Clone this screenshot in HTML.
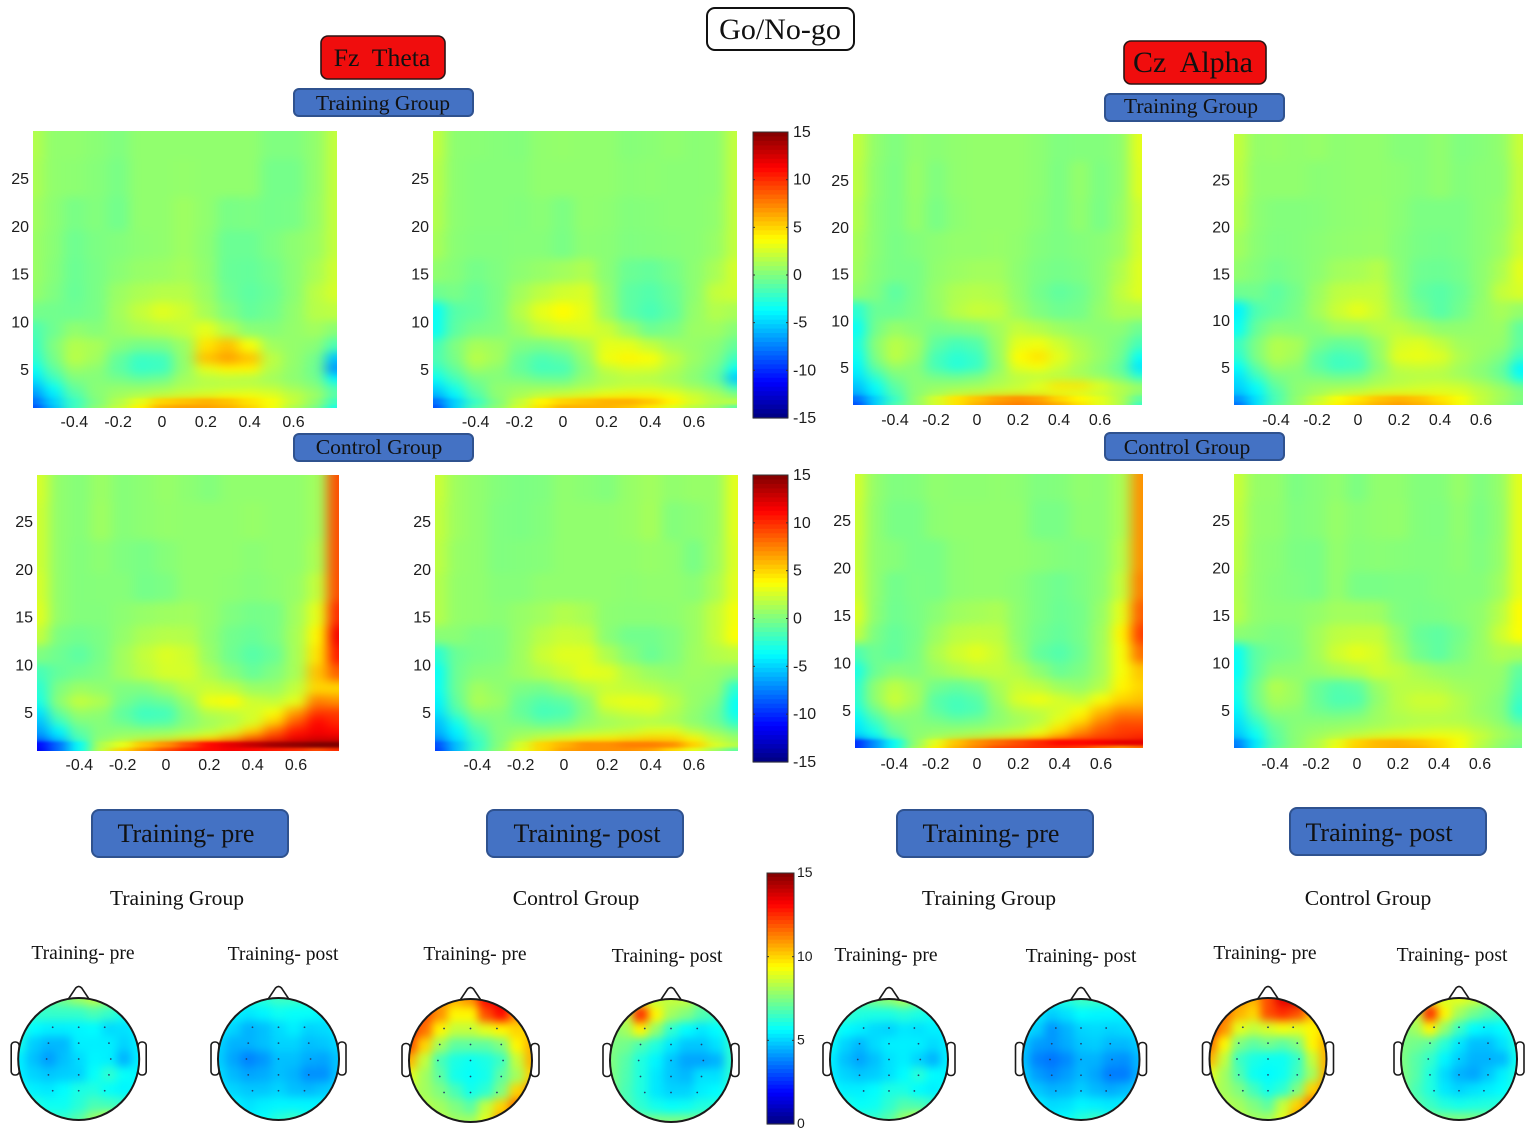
<!DOCTYPE html>
<html lang="en">
<head>
<meta charset="utf-8">
<title>Go/No-go time-frequency and topographic maps</title>
<style>
html,body{margin:0;padding:0;background:#fff;width:1535px;height:1137px;overflow:hidden}
svg{display:block}
.serif{font-family:"Liberation Serif",serif;fill:#111}
.sans{font-family:"Liberation Sans",sans-serif;fill:#1c1c1c}
</style>
</head>
<body>
<svg id="figure" xmlns="http://www.w3.org/2000/svg" width="1535" height="1137" viewBox="0 0 1535 1137">
<defs>
<filter id="blur-main" x="-10%" y="-10%" width="120%" height="120%" color-interpolation-filters="sRGB"><feGaussianBlur stdDeviation="6.5 4.5"/></filter>
<filter id="blur-band" x="-10%" y="-50%" width="120%" height="200%" color-interpolation-filters="sRGB"><feGaussianBlur stdDeviation="7 1.2"/></filter>
<filter id="blur-topo" x="-15%" y="-15%" width="130%" height="130%" color-interpolation-filters="sRGB"><feGaussianBlur stdDeviation="4.5"/></filter>
</defs>

<g>
<rect x="707" y="8" width="147" height="42" rx="8" fill="#fff" stroke="#111" stroke-width="2"/>
<text class="serif" x="780" y="39" font-size="30" text-anchor="middle">Go/No-go</text>
</g>
<g>
<rect x="321" y="36" width="124" height="43" rx="7" fill="#f00d0d" stroke="#2a1414" stroke-width="1.6"/>
<text class="serif" x="382" y="66" font-size="25.7" text-anchor="middle" xml:space="preserve">Fz  Theta</text>
</g>
<g>
<rect x="1124" y="41" width="142" height="43" rx="7" fill="#f00d0d" stroke="#2a1414" stroke-width="1.6"/>
<text class="serif" x="1193" y="72" font-size="30" text-anchor="middle" xml:space="preserve">Cz  Alpha</text>
</g>
<g>
<rect x="294" y="89" width="179" height="27" rx="5" fill="#4472c4" stroke="#2f528f" stroke-width="2"/>
<text class="serif" x="383" y="110" font-size="21.6" text-anchor="middle">Training Group</text>
</g>
<g>
<rect x="1105" y="94" width="179" height="27" rx="5" fill="#4472c4" stroke="#2f528f" stroke-width="2"/>
<text class="serif" x="1191" y="113" font-size="21.6" text-anchor="middle">Training Group</text>
</g>
<g>
<rect x="294" y="434" width="179" height="27" rx="5" fill="#4472c4" stroke="#2f528f" stroke-width="2"/>
<text class="serif" x="379" y="454" font-size="21.6" text-anchor="middle">Control Group</text>
</g>
<g>
<rect x="1105" y="433" width="179" height="27" rx="5" fill="#4472c4" stroke="#2f528f" stroke-width="2"/>
<text class="serif" x="1187" y="454" font-size="21.6" text-anchor="middle">Control Group</text>
</g>

<g>
<rect x="92" y="810" width="196" height="47" rx="7" fill="#4472c4" stroke="#2f528f" stroke-width="2"/>
<text class="serif" x="186" y="842" font-size="26" text-anchor="middle">Training- pre</text>
</g>
<g>
<rect x="487" y="810" width="196" height="47" rx="7" fill="#4472c4" stroke="#2f528f" stroke-width="2"/>
<text class="serif" x="587" y="842" font-size="26" text-anchor="middle">Training- post</text>
</g>
<g>
<rect x="897" y="810" width="196" height="47" rx="7" fill="#4472c4" stroke="#2f528f" stroke-width="2"/>
<text class="serif" x="991" y="842" font-size="26" text-anchor="middle">Training- pre</text>
</g>
<g>
<rect x="1290" y="808" width="196" height="47" rx="7" fill="#4472c4" stroke="#2f528f" stroke-width="2"/>
<text class="serif" x="1379" y="841" font-size="26" text-anchor="middle">Training- post</text>
</g>

<text class="serif" x="177" y="905" font-size="21.6" text-anchor="middle">Training Group</text>
<text class="serif" x="576" y="905" font-size="21.6" text-anchor="middle">Control Group</text>
<text class="serif" x="989" y="905" font-size="21.6" text-anchor="middle">Training Group</text>
<text class="serif" x="1368" y="905" font-size="21.6" text-anchor="middle">Control Group</text>

<text class="serif" x="83" y="959" font-size="19.6" text-anchor="middle">Training- pre</text>
<text class="serif" x="283" y="960" font-size="19.6" text-anchor="middle">Training- post</text>
<text class="serif" x="475" y="960" font-size="19.6" text-anchor="middle">Training- pre</text>
<text class="serif" x="667" y="962" font-size="19.6" text-anchor="middle">Training- post</text>
<text class="serif" x="886" y="961" font-size="19.6" text-anchor="middle">Training- pre</text>
<text class="serif" x="1081" y="962" font-size="19.6" text-anchor="middle">Training- post</text>
<text class="serif" x="1265" y="959" font-size="19.6" text-anchor="middle">Training- pre</text>
<text class="serif" x="1452" y="961" font-size="19.6" text-anchor="middle">Training- post</text>
</svg>

<script>
// Axis categories shared by all time-frequency panels
const timeCenters = [-0.58,-0.5,-0.4,-0.3,-0.2,-0.1,0,0.1,0.2,0.3,0.4,0.5,0.6,0.7,0.79];
const freqRows = [29,25,21,18,15,13,11,9,7.5,6,5,4,3,2.2,1.5,1];
const timeTicks = [-0.4,-0.2,0,0.2,0.4,0.6];
const timeTickLabels = ['-0.4','-0.2','0','0.2','0.4','0.6'];
const freqTicks = [5,10,15,20,25];
const powerTicks = [15,10,5,0,-5,-10,-15];
const topoTicks = [15,10,5,0];

// Power values (rows follow freqRows, columns follow timeCenters)
const fzTrainingPre = [
[1.5,.5,.5,.3,0,.5,.5,.5,.5,.5,.5,0,0,.5,2],
[1.3,.5,.4,.2,-.2,.5,.5,.6,.5,.5,.5,-.3,-.3,.5,2],
[1,.4,-.2,.1,-.4,.5,.5,.9,.5,-.2,-.1,-.3,-.2,.6,2],
[.8,.3,-.5,-.1,.1,.4,.5,.9,.4,-.6,-.6,-.1,.4,.8,2],
[.8,.2,-.6,-.2,.3,.7,.8,1.1,.5,-.7,-.8,-.4,.3,1.2,2.3],
[.6,0,-.7,-.2,.8,1.3,1.6,1.6,.8,-.5,-1,-.6,.3,1.7,2.5],
[-.3,-.4,-.5,-.2,1,2,2.8,2.3,1.2,0,-.8,-.4,.5,1.6,1.8],
[-1.5,-.5,.5,.2,.8,1.3,1.6,2,3,1.5,.3,.2,.6,1,.3],
[-2,0,1.5,1.2,.2,-.3,-.2,.8,4.5,5.5,3.5,1,.6,.3,-1.5],
[-2.5,-.3,1.7,1,-.8,-2,-1.8,.6,5.5,6.5,5.5,1.8,.6,-.3,-5.5],
[-3.5,-1,.8,.4,-1,-2.2,-2,.5,3,4,4,1.5,.5,-.5,-7],
[-4.5,-2,0,.2,-.3,-.8,-.5,1,1.7,1.8,1.6,1,.4,-.3,-4],
[-6,-3.5,-.8,.3,.6,.6,.8,1.4,1.7,1.8,2,1.8,1,.3,-1.5],
[-7,-4.5,-1.5,.2,1,1.5,2,2.5,3,3.5,3.5,3,2,1,-1],
[-8,-5,-2,0,1.5,3,5,5.5,6,5.5,4.5,3.5,2,.5,-2],
[-9,-5.5,-2,.3,2,4,6,6.5,6.5,6,5,3.5,1.5,0,-3]];
const fzTrainingPost = [
[2,.4,.3,.2,.1,.5,.6,.5,.5,.2,.3,.5,.3,.4,2],
[1.7,.4,.2,.2,.2,.5,.5,.5,.5,.3,.4,.3,.3,.4,2],
[1.5,.4,.2,.2,.1,.3,-.1,.5,.4,.1,.2,.3,.3,.5,2],
[1.2,.3,.1,.1,.2,.2,-.2,.4,.3,0,.1,.2,.3,.7,2],
[.5,.2,-.3,0,.4,.7,1,1.4,.3,-.6,-.8,-.3,.4,1.2,2.5],
[-.5,-.2,-.7,-.1,1,1.8,2.4,2.6,.6,-1,-1.3,-.7,.4,2,2.3],
[-3.5,-1.2,-.8,-.1,1.5,3,3.8,3,.8,-1,-1.6,-.9,.6,1.5,1.2],
[-3.5,-1,-.2,0,.9,2,2.5,2.7,2.2,.8,-.5,-.1,.8,.9,.2],
[-1.7,0,1.2,.9,0,-.2,.2,1.2,3,3,2,1,.7,.3,-.8],
[-1.5,-.2,1.7,1,-.7,-1.5,-1,.6,3.3,4,3.6,2,.8,0,-2],
[-2.3,-.8,.9,.4,-.8,-1.8,-1.7,.2,2,2.6,2.5,1.5,.5,-.5,-3.5],
[-3.5,-1.7,-.2,.2,-.1,-.6,-.7,.6,1.4,1.7,1.5,1.1,.3,-.8,-5.5],
[-5,-3,-.8,.5,.8,.8,.8,1.3,1.8,2.2,2.3,1.8,1,.3,-2],
[-6,-4,-1.4,.4,1.2,2,2.5,3,3.6,4,4,3.5,2.5,1.5,.5],
[-8,-5,-2,.1,2,4,5,5.5,6,6,5.3,4,2.5,1.5,1.5],
[-9,-5,-1.5,.4,2.5,4.5,6,6,6,5.5,4.5,3,1.8,1,-1]];
const czTrainingPre = [
[2,.5,0,.5,.3,.5,.6,.6,.6,.4,0,.1,.1,.4,3],
[1.8,.4,-.1,.7,0,.5,.6,.6,.6,.4,-.1,.6,-.1,.4,2.8],
[1.5,.3,-.1,.6,-.2,.4,.6,.6,.6,.3,-.1,.5,-.2,.6,2.3],
[1.2,.3,-.2,.1,.4,.6,.6,.7,.5,.1,-.1,.1,.3,.8,2.5],
[1,.2,-.2,-.2,.5,.8,1,1,.4,-.1,-.3,-.1,.4,1.4,2.8],
[.5,0,-1,-.2,.7,1.4,1.6,1.4,.5,-.3,-.9,-.5,.4,1.8,2.8],
[-2.5,-.6,-.6,-.1,.6,1.6,2.1,1.9,.8,0,-.5,-.3,.6,1.4,1.4],
[-3.5,-.3,.7,.3,-.2,0,.2,1,2,1.5,.9,.5,.4,.4,-.5],
[-3,.3,1.7,1,-1,-1.7,-1.3,.7,3,3.3,2.3,1.3,.6,-.1,-1.7],
[-3.5,0,1.8,.8,-1.7,-2.5,-2,.5,3.8,4.5,3,1.6,.7,-.3,-3.5],
[-4,-.8,.7,.2,-1.7,-2.7,-2.1,.3,3,3.5,2.3,1.2,.3,-.8,-4.5],
[-4.5,-2.2,-.2,.3,-.4,-.6,-.2,1,1.8,1.8,1.6,1.2,.6,-.3,-2.5],
[-5.5,-3.5,-1,.3,.6,.7,.9,1.4,2,3,4.5,4.5,3,1.6,.8],
[-6,-4,-1.5,.3,1,1.7,2,2.4,2.6,2.6,2.8,2.5,2,1.5,.5],
[-8,-5,-2,.5,2.5,4.5,5.5,6.5,7,6.5,5,4,3,1.5,-1],
[-9,-5,-1.5,.5,2.5,4.5,6,7,7.5,7,6,4.5,3,1.5,-2]];
const czTrainingPost = [
[2,.6,.7,.5,.7,.4,.5,.5,.2,.2,.5,0,.2,.5,2.2],
[1.8,.5,.5,.5,.3,.4,.5,.5,.4,.2,.5,.1,.3,.4,2],
[1.5,.4,.1,.1,.2,.4,.5,.6,.3,-.1,-.1,-.1,.3,.6,2],
[1,.3,0,.1,.3,.5,.6,.7,.2,-.2,-.3,-.1,.3,.8,2.3],
[.5,.1,-.3,0,.4,1,1.2,1.6,.3,-.5,-.6,-.3,.4,1.3,3],
[-.5,-.4,-1,-.3,.8,1.8,2,2,.5,-.8,-1.2,-.6,.4,2,2.6],
[-4,-1.4,-.8,-.2,1,2.2,3,2.2,.8,-.3,-1.2,-.4,.6,1.2,.6],
[-3.5,-.7,.3,.2,.3,1,1,1.6,1.8,1.2,.5,.5,.7,.8,-1],
[-2,0,1.5,1.2,-.2,-.8,-.6,.7,2.5,2.8,2,1,.8,.6,-1],
[-2.5,0,1.5,1,-1,-1.8,-1.5,.6,3,3.2,2.8,1.4,.7,0,-2],
[-3.7,-1,.8,.4,-1,-2,-1.8,.2,2,2.2,2,1,.3,-.7,-4],
[-4.5,-2,-.2,.2,-.1,-.5,-.3,.9,1.5,1.6,1.5,1,.4,-.6,-3.5],
[-5,-3.5,-.8,.4,.8,.8,.9,1.4,1.8,2.2,2.4,2.2,1.4,.5,-.7],
[-5.5,-4,-1.5,.3,1,1.8,2.2,2.8,3,3,3,2.8,2,1.2,.2],
[-7,-4.5,-1.5,.5,2,3.5,4.5,5.5,6,5.5,4.5,3.5,2,1,0],
[-8,-4.5,-1.2,.6,2.5,4,5,6,6.5,6,5,3.5,2,.8,-.5]];
const fzControlPre = [
[2.5,.5,.2,.8,.2,.4,.7,.4,.1,.5,.5,.5,.5,1,9],
[2.3,.5,.2,.9,.2,.4,.6,.5,.5,.5,.7,.5,.5,1,9],
[2.3,.5,.1,.4,0,-.2,.2,.5,.5,.5,.3,.5,.5,1.3,9],
[2.5,.5,.1,.2,.2,-.3,-.1,.5,.5,.4,.2,.4,.7,2,9],
[2.8,.5,.1,.1,.4,.7,.9,1,.6,0,-.3,-.2,1,3,10],
[2,-.1,-.4,-.1,.6,1.3,1.6,1.5,.5,-.4,-.7,-.2,1.2,4,11.5],
[0,-.5,-1,-.2,1,2,2.7,2.3,.7,-.5,-1.2,-.6,1.2,4.5,10.5],
[-1.7,-.8,-.4,0,1,1.8,2.5,2.5,1.3,.2,-.7,0,1.2,5.5,8.5],
[-2.5,0,.8,.5,0,0,.8,1.8,2.2,1.8,.8,.8,2,5,5],
[-3,.4,2,1.4,-.3,-1,-.6,.8,3.3,3.8,2.3,2,3,7.5,7],
[-4.5,-.7,.8,.5,-1,-2,-1.8,.2,1.7,2,2.5,3.5,6.5,9.5,9.5],
[-5.5,-2,0,.2,-.6,-1.5,-1.3,.2,1,1.5,2.5,5,8.5,11,10],
[-6.5,-4,-1,.2,.4,.3,.4,.8,1.5,2.5,5,8,10.5,11.5,11],
[-7.5,-5,-1.5,.3,1,1.5,2,3,4,6,8.5,10,11.5,12,12],
[-11,-8,-3.5,1.5,3,5.5,7,9,11,12,13,14,14.5,15,15],
[-11.5,-8,-3.5,2,5,7,9,10.5,11,11.5,11,10.5,10,9,10]];
const fzControlPost = [
[2.2,.9,.5,.1,-.1,0,.5,.3,.1,.7,1,.5,.7,.7,3],
[2,.9,.5,0,-.1,.1,.5,.5,.5,.7,1.1,.1,.3,.7,3],
[1.8,.7,.5,0,.1,.2,.5,.5,.5,.5,.7,.5,-.2,.8,2.8],
[1.5,.6,.5,.2,.2,.5,.5,.5,.5,.4,.5,.5,.3,1.2,3],
[1.5,.6,.5,.3,.7,1,1.5,1.2,.4,.3,.3,.4,.8,2,3.5],
[.3,.3,-.1,0,.8,1.7,2.2,2,.3,-.4,-.4,0,.8,2,3.7],
[-2.5,-.6,-.2,0,.9,2.2,2.8,2.8,1.4,.2,-.6,0,.9,1.5,1.8],
[-3.5,-.5,.2,.3,.9,1.5,2.2,3,2.8,1.5,.8,.5,.9,.7,.2],
[-3.5,-.5,1,.5,-.1,-.3,.5,1.5,2.2,2,1.7,1.2,.7,.5,-2.5],
[-4,-.8,1.3,.8,-.7,-1.3,-1,.3,2.8,3.2,3,1.8,.7,0,-3.5],
[-4.5,-1.5,.4,.3,-.8,-1.8,-1.6,.1,1.8,2.3,2.6,1.5,.5,-.5,-3.5],
[-5.5,-3,-.5,.1,-.3,-1,-.7,.5,1,1.3,1.4,1.2,.4,-.5,-2.5],
[-6,-4,-1.4,.2,.6,.6,.7,1.2,1.6,2,2.8,3,1.5,.6,-.5],
[-7,-4.5,-2,0,1.2,2.2,3,3.5,4,4.5,5,5,4,2,1],
[-9,-5.5,-2.2,.2,2.5,5,6,7,7,7.5,7.5,7,5,2.5,1.5],
[-9.5,-5.5,-2,.5,3,5,6.5,7,7,7,6.5,5,3,1,-1]];
const czControlPre = [
[2.5,.6,0,.1,.5,.4,.4,.5,.4,0,.1,.5,.4,1.2,7],
[2.3,.5,-.2,-.2,.4,.5,.5,.5,.5,-.2,-.2,.4,.4,1.2,7],
[2.2,.5,.2,-.2,-.2,.4,.5,.5,.5,.3,.1,0,.3,1.5,7],
[2.3,.5,-.4,-.1,-.2,.4,.5,.5,.3,-.2,-.5,-.1,.4,2,7.5],
[2.8,.4,-.5,-.2,.3,.9,1.1,1.3,.4,-.2,-.6,-.3,.7,3,8.5],
[2,-.1,-.8,-.3,.8,1.7,1.9,1.8,.4,-.4,-.8,-.3,.9,4,9.5],
[-1.5,-.5,-.9,-.2,1.3,2.3,2.9,2.2,.7,-.8,-1.3,-.5,1,3.5,8],
[-3,-.6,.2,0,.8,1.4,1.9,2,1.5,.4,-.6,-.1,1,3.5,5.5],
[-2.5,.5,1.8,1,-.4,-.8,-.3,1.2,2.2,1.8,.9,.6,1.5,4,5],
[-2.5,.5,2.2,1.2,-1.2,-1.7,-1.2,.8,2.7,3.3,2.5,2,3.5,5,5.5],
[-3,-.5,1.2,.5,-1,-1.8,-1.5,.4,1.6,2,2.5,3.5,5.5,7,7],
[-4,-1.7,0,.2,-.3,-.8,-.5,.4,1,1.6,3,4.5,7,8.5,8.5],
[-4.5,-2.8,-.5,.3,.4,.4,.5,.8,1.4,2.5,4.5,6.5,8.5,9.5,9.5],
[-5,-3.5,-1,.3,.8,1.3,1.8,2.5,3,4,6,8,9,9.5,10],
[-10,-7,-3.5,.5,3,5.5,7,8,9,10,11,11,11.5,12,12],
[-10,-7,-3.5,1,4,6,7.5,9,9.5,10,10,9.5,8,7,8]];
const czControlPost = [
[2.2,.7,.6,-.1,.2,.5,-.1,.5,.5,.1,.1,.7,0,.6,3],
[2,.6,.5,0,.2,.7,.3,.5,.6,.1,0,.5,-.1,.5,3],
[1.8,.5,.3,-.1,-.2,.6,.2,.3,.2,.1,.1,.4,0,.6,3],
[1.5,.5,.2,0,-.2,.6,-.2,-.2,-.1,-.1,.1,.2,.2,.9,3],
[1.6,.5,.3,.3,.6,1,1,.9,0,-.2,-.1,.2,.5,1.6,3.8],
[.4,.2,-.1,.1,1,1.8,2,2,.6,-.7,-1,-.3,.6,2.2,3.7],
[-3.5,-1,-.3,0,1,2.3,3,2.5,1,-.4,-1,-.1,.7,1.4,1.2],
[-3.7,-1,.3,.4,.7,1.2,1.6,2.3,1.9,1.2,.7,.5,.7,.7,-1],
[-3.2,-.5,1.5,.8,-.6,-1.3,-1,.8,1.7,1.7,1.5,1,.8,.5,-1.5],
[-3.5,-.5,1.2,.8,-.6,-1.5,-1.4,.5,1.7,2.3,2.3,1.5,.8,.2,-2],
[-4,-1,.6,.4,-.4,-.8,-.6,.8,1.6,2,2,1.5,.7,.2,-2.5],
[-4.5,-2,-.2,.2,.2,.2,.4,.9,1.3,1.5,1.5,1.4,1,.3,-1.5],
[-5,-3,-.8,.3,.6,.8,1,1.3,1.7,2,2.2,2.2,1.5,.9,0],
[-5.5,-3.7,-1,.3,1,1.6,2.2,2.8,3.1,3.3,3.5,3.3,2.3,1.2,.4],
[-7.5,-4.3,-1.2,.3,1.4,3,5,5.8,6,5.5,4.8,3.5,1.8,.7,0],
[-8,-4.2,-.9,.5,1.6,3.4,5.2,5.8,6.2,6,5,3.6,1.5,.4,-.5]];

// Scalp positions of the topographic grid (-1 .. 1 across the head) and electrode layout
const scalpGrid = [-1,-.75,-.5,-.25,0,.25,.5,.75,1];
const electrodeRows = [-.52,-.26,0,.26,.52];
const electrodeColumns = [[-.43,0,.43],[-.5,0,.5],[-.53,0,.53],[-.5,0,.5],[-.43,0,.43]];

// Topographic power (rows top to bottom, columns left to right)
const topoFzTrainingPre = [
[6.4,6.4,6.9,7.4,7.9,8.4,7.9,6.9,6.4],[6.4,6.4,6.4,6.4,6.4,6.7,6.4,5.9,5.9],[6.4,5.6,5.4,5.4,5.5,5.6,5.1,5.2,5.4],
[5.9,4.9,4.6,4.6,5.4,5.4,5.4,5,5.4],[5.4,4.7,4.2,4.7,5.1,5.5,5.4,4.5,5.4],[5.4,5,4.8,4.9,5,5.7,6.3,5.7,5.5],
[5.9,5.4,5.3,5.6,6,6.1,5.7,5.5,5.7],[6.4,6.1,5.8,5.8,6.2,6.7,6.6,6.4,6.4],[6.4,6.4,6.4,6.4,6.9,7.9,8.9,7.4,6.4]];
const topoFzTrainingPost = [
[5.5,5.5,6,6.2,6.5,6.5,6.2,5.7,5.5],[5.5,5.5,5.3,5.5,5.8,5.7,5.7,5.5,5.5],[5.5,5,4.5,4.7,5.1,5.4,5,5.1,5.3],
[5,4.5,4.5,4.7,5,5,4.7,4.8,5.1],[4.9,4.3,3.8,4.1,4.7,4.7,4.4,4.3,4.8],[5.1,4.6,4.3,4.4,4.7,4.5,4,4,4.8],
[5.3,5,4.8,4.8,5,4.7,4.6,4.8,5.1],[5.5,5.5,5.2,5.4,5.5,5.5,5.5,5.5,5.5],[5.5,5.5,5.5,5.7,6.2,6.5,6,5.5,5.5]];
const topoFzControlPre = [
[11,11,11,10.5,11,13,13.5,13,10],[12,12,11,9.5,9.5,12,13,11,10],[12.5,11.5,9.5,8.5,8.5,9,9.5,10,10],
[12,10,8,7,7,7,7.5,9.5,10.5],[10.5,8.5,6.7,6,5.8,6,6.5,8.5,10.5],[9,8,7,5.9,5.7,5.9,7,8,10],
[8.5,8,7.5,6.7,5.9,6.3,7.5,10,11],[8.5,8.3,8,7.5,7,8.5,10,11.5,11],[8.5,8.5,8.5,8,8,9,11,11,9]];
const topoFzControlPost = [
[7.5,8,9,8.5,8.5,8.5,7.5,7,7],[8,8.5,12.5,9.5,8,7.5,6.8,6.5,6.5],[7.5,8,9.5,7.8,6.3,5.6,5.3,5.6,6.2],
[7.5,7.3,6.7,6.1,5.3,4.8,4.8,5.2,6.2],[7.5,6.9,6.1,5.5,4.8,4.3,4.3,4.5,6.2],[7.5,6.8,6.1,5.3,4.8,4.6,5.2,5.2,6.2],
[7.5,6.7,6.1,5.3,5,5,5.4,5.6,6.2],[7.5,6.8,6.3,5.9,5.7,5.8,6.1,6.2,6.5],[7.5,7.5,7.5,7.5,7.5,7.5,7.5,7,7]];
const topoCzTrainingPre = [
[6.4,6.4,6.9,7.4,7.7,8.2,7.4,6.7,6.4],[6.4,6.4,6.1,6,6,6.2,6,5.8,5.8],[6.2,5.6,5.4,5.1,5,5.3,5.2,5.4,5.4],
[5.7,5,4.6,5.1,5.4,5.4,5.4,5.1,5.4],[5.4,4.7,4.3,4.7,5.2,5.4,5,4.5,5.4],[5.4,5,4.8,4.9,5.2,5.6,6.2,5.6,5.5],
[5.7,5.4,5.4,5.6,6,6,5.6,5.4,5.7],[6.4,6,5.7,5.8,6.3,6.8,6.7,6.4,6.4],[6.4,6.4,6.4,6.4,6.9,7.9,8.9,7.4,6.4]];
const topoCzTrainingPost = [
[5.5,5.5,5.8,6.1,6.5,6.5,6.2,5.5,5.5],[5.5,5.3,4.9,5.2,5.6,5.5,5.5,5.4,5.3],[5.3,4.9,4.1,4.5,5,5.1,5,5.1,5.2],
[4.8,4.2,4.1,4.4,4.8,4.9,4.6,4.6,4.9],[4.7,3.8,3.6,3.9,4.5,4.5,4.1,4,4.6],[4.9,4.2,3.9,4.2,4.6,4.3,3.7,3.7,4.5],
[5.2,4.8,4.5,4.6,4.9,4.6,4.4,4.6,5],[5.5,5.4,5.1,5.2,5.5,5.4,5.3,5.4,5.5],[5.5,5.5,5.5,5.7,6.2,6.5,6,5.5,5.5]];
const topoCzControlPre = [
[11,11,11,10.5,12,13.5,14,13,10],[12,11.5,10.5,10,12,12.5,12,10.5,10],[12.5,11,9,8.5,8.8,9.2,9,9.5,10],
[11.5,9.5,7.5,7,7.3,7,7.5,9.5,10.5],[10.5,8.5,6.5,6,5.8,5.8,6.4,8.5,10.5],[9,8,6.8,5.8,5.6,5.8,6.6,8,10.5],
[8.5,8,7.5,6.6,5.9,6.3,7.5,10,11],[8.5,8.3,8,7.5,7,8.5,10,11.5,11],[8.5,8.5,8.5,8,8,9,11,11,9]];
const topoCzControlPost = [
[7.5,8,9,8.8,9,8.7,8,7,7],[8,8.5,12.5,9.5,8,7.3,6.8,6.5,6.5],[7.5,8,9.5,7.8,6.5,5.6,5.4,5.6,6.2],
[7.5,7.3,7,6.2,5.3,4.7,4.7,5.2,6],[7.5,6.9,6.4,5.5,4.9,4.5,4.5,4.6,5.8],[7.5,6.9,6.1,5.1,4.5,4.3,4.8,5.4,6],
[7.5,6.7,6.1,5.3,5,5.2,5.4,5.6,6.2],[7.5,7,6.5,6.1,5.9,6,6.1,6.2,6.5],[7.5,7.5,7.5,7.5,7.5,7.5,7.5,7,7]];

const NS = 'http://www.w3.org/2000/svg';
const figure = document.getElementById('figure');
const defs = figure.querySelector('defs');

function make(tag, attrs, parent) {
  const el = document.createElementNS(NS, tag);
  for (const k in attrs) el.setAttribute(k, attrs[k]);
  parent.appendChild(el);
  return el;
}
function clamp01(v) { return Math.max(0, Math.min(1, v)); }
function jet(t) {
  const r = clamp01(1.5 - Math.abs(4 * t - 3));
  const g = clamp01(1.5 - Math.abs(4 * t - 2));
  const b = clamp01(1.5 - Math.abs(4 * t - 1));
  return 'rgb(' + Math.round(r * 255) + ',' + Math.round(g * 255) + ',' + Math.round(b * 255) + ')';
}
function linearScale(d0, r0, d1, r1) {
  return function (v) { return r0 + (v - d0) * (r1 - r0) / (d1 - d0); };
}
function cellEdges(centers, scale, lowPad, highPad) {
  const px = centers.map(scale);
  const edges = [px[0] + lowPad];
  for (let i = 0; i < px.length - 1; i++) edges.push((px[i] + px[i + 1]) / 2);
  edges.push(px[px.length - 1] + highPad);
  return edges;
}

function drawPanel(cfg) {
  const xScale = linearScale(0, cfg.x0, 0.6, cfg.x6);
  const yScale = linearScale(5, cfg.y5, 25, cfg.y25);
  const panel = make('g', {}, figure);
  
  
  const clip = make('clipPath', { id: 'clip-' + cfg.name }, defs);
  make('rect', { x: cfg.left, y: cfg.top, width: cfg.right - cfg.left, height: cfg.bottom - cfg.top }, clip);
  const frame = make('g', { 'clip-path': 'url(#clip-' + cfg.name + ')' }, panel);
  const mainLayer = make('g', { filter: 'url(#blur-main)' }, frame);
  const bandLayer = make('g', { filter: 'url(#blur-band)' }, frame);
  const xEdges = cellEdges(timeCenters, xScale, -45, 45);
  const yEdges = cellEdges(freqRows, yScale, -45, 45);
  cfg.values.forEach(function (row, r) {
    row.forEach(function (v, c) {
      const attrs = {
        x: xEdges[c], y: yEdges[r],
        width: xEdges[c + 1] - xEdges[c] + 0.5,
        height: yEdges[r + 1] - yEdges[r] + 0.5,
        fill: jet((v + 15) / 30)
      };
      const cell = make('rect', attrs, mainLayer);
      
      
      if (freqRows[r] <= 1.5) {
        const bandCell = make('rect', attrs, bandLayer);
        
        
      }
    });
  });
  timeTicks.forEach(function (t, i) {
    const label = make('text', { class: 'sans', x: xScale(t), y: cfg.bottom + cfg.tickGap, 'font-size': 16, 'text-anchor': 'middle' }, panel);
    label.textContent = timeTickLabels[i];
    
    
  });
  freqTicks.forEach(function (f) {
    const label = make('text', { class: 'sans', x: cfg.left - 4, y: yScale(f) + 6, 'font-size': 16, 'text-anchor': 'end' }, panel);
    label.textContent = String(f);
    
    
  });
}

function drawColorbar(cfg) {
  const bar = make('g', {}, figure);
  
  
  const yScale = linearScale(cfg.max, cfg.top, cfg.min, cfg.bottom);
  const steps = 64;
  for (let i = 0; i < steps; i++) {
    const hi = cfg.max - (cfg.max - cfg.min) * i / steps;
    const lo = cfg.max - (cfg.max - cfg.min) * (i + 1) / steps;
    const swatch = make('rect', { x: cfg.left, y: yScale(hi), width: cfg.right - cfg.left, height: yScale(lo) - yScale(hi) + 0.6, fill: jet(1 - (i + 0.5) / steps) }, bar);
    
    
  }
  make('rect', { x: cfg.left, y: cfg.top, width: cfg.right - cfg.left, height: cfg.bottom - cfg.top, fill: 'none', stroke: '#333', 'stroke-width': 1 }, bar);
  cfg.ticks.forEach(function (v) {
    const y = yScale(v);
    make('line', { x1: cfg.left, x2: cfg.left + 2, y1: y, y2: y, stroke: '#333' }, bar);
    make('line', { x1: cfg.right - 2, x2: cfg.right, y1: y, y2: y, stroke: '#333' }, bar);
    const label = make('text', { class: 'sans', x: cfg.labelX, y: y + cfg.fontSize * 0.37 - 1, 'font-size': cfg.fontSize }, bar);
    label.textContent = String(v);
    
    
  });
}

function drawTopo(cfg) {
  const topo = make('g', {}, figure);
  
  
  const xScale = linearScale(-1, cfg.cx - cfg.rx, 1, cfg.cx + cfg.rx);
  const yScale = linearScale(-1, cfg.cy - cfg.ry, 1, cfg.cy + cfg.ry);
  const earStyle = { fill: '#fff', stroke: '#1a1a1a', 'stroke-width': 1.6, rx: 3.5 };
  make('rect', Object.assign({ x: cfg.cx - cfg.rx - 7, y: cfg.cy - 17, width: 8, height: 33 }, earStyle), topo);
  make('rect', Object.assign({ x: cfg.cx + cfg.rx - 1, y: cfg.cy - 17, width: 8, height: 33 }, earStyle), topo);
  const top = cfg.cy - cfg.ry;
  make('path', { d: 'M' + (cfg.cx - 11) + ' ' + (top + 2) + 'L' + (cfg.cx - 3) + ' ' + (top - 10) + 'Q' + cfg.cx + ' ' + (top - 13) + ' ' + (cfg.cx + 3) + ' ' + (top - 10) + 'L' + (cfg.cx + 11) + ' ' + (top + 2), fill: '#fff', stroke: '#1a1a1a', 'stroke-width': 1.6 }, topo);
  const clip = make('clipPath', { id: 'clip-' + cfg.name }, defs);
  make('ellipse', { cx: cfg.cx, cy: cfg.cy, rx: cfg.rx, ry: cfg.ry }, clip);
  const frame = make('g', { 'clip-path': 'url(#clip-' + cfg.name + ')' }, topo);
  const layer = make('g', { filter: 'url(#blur-topo)' }, frame);
  const xEdges = cellEdges(scalpGrid, xScale, -30, 30);
  const yEdges = cellEdges(scalpGrid, yScale, -30, 30);
  cfg.values.forEach(function (row, r) {
    row.forEach(function (v, c) {
      const cell = make('rect', { x: xEdges[c], y: yEdges[r], width: xEdges[c + 1] - xEdges[c] + 0.5, height: yEdges[r + 1] - yEdges[r] + 0.5, fill: jet(v / 15) }, layer);
      
      
    });
  });
  electrodeRows.forEach(function (ry, i) {
    electrodeColumns[i].forEach(function (ex) {
      const dot = make('circle', { cx: xScale(ex), cy: yScale(ry), r: 0.9, fill: '#24406a' }, topo);
      
      
    });
  });
  make('ellipse', { cx: cfg.cx, cy: cfg.cy, rx: cfg.rx, ry: cfg.ry, fill: 'none', stroke: '#1a1a1a', 'stroke-width': 2 }, topo);
}

drawPanel({ name: 'fz-training-pre-heatmap', values: fzTrainingPre, left: 33, right: 337, top: 131, bottom: 408, x0: 162, x6: 293.5, y5: 369, y25: 178, tickGap: 19 });
drawPanel({ name: 'fz-training-post-heatmap', values: fzTrainingPost, left: 433, right: 737, top: 131, bottom: 408, x0: 563, x6: 694, y5: 369, y25: 178, tickGap: 19 });
drawPanel({ name: 'cz-training-pre-heatmap', values: czTrainingPre, left: 853, right: 1142, top: 134, bottom: 405, x0: 977, x6: 1100, y5: 367, y25: 180, tickGap: 20 });
drawPanel({ name: 'cz-training-post-heatmap', values: czTrainingPost, left: 1234, right: 1523, top: 134, bottom: 405, x0: 1358, x6: 1481, y5: 367, y25: 179.5, tickGap: 20 });
drawPanel({ name: 'fz-control-pre-heatmap', values: fzControlPre, left: 37, right: 339, top: 475, bottom: 751, x0: 166, x6: 296, y5: 712, y25: 521, tickGap: 19 });
drawPanel({ name: 'fz-control-post-heatmap', values: fzControlPost, left: 435, right: 738, top: 475, bottom: 751, x0: 564, x6: 694, y5: 712, y25: 521, tickGap: 19 });
drawPanel({ name: 'cz-control-pre-heatmap', values: czControlPre, left: 855, right: 1143, top: 474, bottom: 748, x0: 977, x6: 1101, y5: 710, y25: 520, tickGap: 21 });
drawPanel({ name: 'cz-control-post-heatmap', values: czControlPost, left: 1234, right: 1522, top: 474, bottom: 748, x0: 1357, x6: 1480, y5: 710, y25: 520, tickGap: 21 });

drawColorbar({ name: 'colorbar-training', left: 753, right: 788, top: 132, bottom: 418, min: -15, max: 15, ticks: powerTicks, labelX: 793, fontSize: 16 });
drawColorbar({ name: 'colorbar-control', left: 753, right: 788, top: 475, bottom: 762, min: -15, max: 15, ticks: powerTicks, labelX: 793, fontSize: 16 });
drawColorbar({ name: 'colorbar-topomap', left: 767, right: 794, top: 873, bottom: 1124, min: 0, max: 15, ticks: topoTicks, labelX: 797, fontSize: 14 });

drawTopo({ name: 'topomap-fz-training-pre', values: topoFzTrainingPre, cx: 78.7, cy: 1059, rx: 60.5, ry: 61 });
drawTopo({ name: 'topomap-fz-training-post', values: topoFzTrainingPost, cx: 278.5, cy: 1059, rx: 60.5, ry: 61 });
drawTopo({ name: 'topomap-fz-control-pre', values: topoFzControlPre, cx: 470.5, cy: 1060.5, rx: 61.5, ry: 61.5 });
drawTopo({ name: 'topomap-fz-control-post', values: topoFzControlPost, cx: 671, cy: 1060.5, rx: 61, ry: 61.5 });
drawTopo({ name: 'topomap-cz-training-pre', values: topoCzTrainingPre, cx: 889, cy: 1059.5, rx: 59, ry: 60.5 });
drawTopo({ name: 'topomap-cz-training-post', values: topoCzTrainingPost, cx: 1081, cy: 1059.5, rx: 58.5, ry: 60.5 });
drawTopo({ name: 'topomap-cz-control-pre', values: topoCzControlPre, cx: 1268, cy: 1059, rx: 58.5, ry: 61 });
drawTopo({ name: 'topomap-cz-control-post', values: topoCzControlPost, cx: 1459, cy: 1059, rx: 58, ry: 61 });
</script>
</body>
</html>
